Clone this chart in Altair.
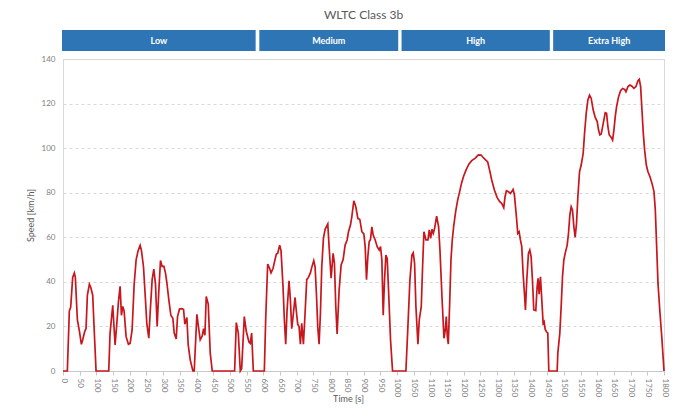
import altair as alt
import pandas as pd

# WLTC Class 3b speed trace
time_s = [0, 13, 19, 23, 29, 34, 37, 43, 49, 55, 59, 65, 69, 73, 79, 83, 89, 93, 99,
          137, 141, 149, 156, 161, 166, 171, 175, 179, 183, 189, 196, 201, 207, 213, 219,
          225, 231, 235, 241, 247, 251, 257, 261, 267, 272, 277, 282, 287, 292, 297, 302,
          307, 311, 317, 323, 329, 333, 339, 343, 349, 355, 361, 365, 371, 375, 381, 389,
          393, 401, 407, 411, 417, 421, 425, 429, 435, 441, 447, 514, 519, 525, 531, 535,
          543, 549, 557, 561, 565, 570, 603, 607, 613, 619, 623, 629, 635, 639, 643, 649,
          653, 659, 663, 667, 671, 677, 681, 685, 689, 695, 699, 703, 707, 711, 715, 720,
          725, 730, 735, 741, 745, 751, 755, 759, 763, 767, 771, 775, 780, 785, 793, 797,
          803, 809, 813, 817, 821, 827, 833, 839, 845, 851, 855, 861, 865, 871, 877, 883,
          889, 895, 901, 905, 909, 913, 917, 921, 925, 929, 935, 941, 947, 951, 955, 959,
          963, 967, 971, 975, 981, 987, 1027, 1033, 1039, 1045, 1049, 1053, 1057, 1063,
          1067, 1073, 1077, 1081, 1087, 1093, 1097, 1101, 1105, 1109, 1113, 1119, 1125,
          1129, 1135, 1141, 1145, 1148, 1151, 1154, 1158, 1162, 1166, 1170, 1176, 1182,
          1188, 1194, 1200, 1208, 1216, 1224, 1234, 1244, 1252, 1258, 1264, 1272, 1278,
          1284, 1292, 1300, 1308, 1314, 1320, 1324, 1328, 1334, 1340, 1344, 1348, 1352,
          1358, 1362, 1366, 1370, 1374, 1378, 1382, 1385, 1389, 1394, 1398, 1402, 1406,
          1410, 1416, 1420, 1423, 1426, 1430, 1434, 1438, 1441, 1444, 1448, 1452, 1455,
          1480, 1482, 1488, 1492, 1496, 1500, 1504, 1510, 1514, 1518, 1522, 1526, 1530,
          1534, 1538, 1542, 1547, 1552, 1558, 1562, 1567, 1572, 1577, 1582, 1588, 1594,
          1600, 1604, 1608, 1612, 1618, 1624, 1628, 1632, 1636, 1642, 1646, 1650, 1654,
          1658, 1664, 1670, 1676, 1682, 1686, 1692, 1698, 1704, 1710, 1716, 1722, 1726,
          1730, 1734, 1738, 1742, 1747, 1752, 1758, 1764, 1770, 1774, 1778, 1782, 1788,
          1794, 1800]
speed_kmh = [0, 0, 27, 28.6, 42, 44, 42, 23, 18, 12, 14, 17.7, 19, 34, 39, 37.6, 34, 20, 0,
             0, 17, 29.5, 11.7, 21, 31, 38, 25, 29, 27, 15.4, 12, 12.4, 18.4, 38.6, 49.9,
             54, 56.4, 54, 46.9, 31.9, 21.4, 14.7, 26, 41, 45.7, 39, 20, 36, 49.6, 46.9, 47,
             43.9, 39.7, 31.9, 25, 23.7, 17, 14.4, 24.4, 27.8, 28, 27.7, 21, 24, 11.7, 5, 0,
             0, 25.4, 18.4, 14, 15.7, 19, 16, 33.4, 30, 8, 0, 0, 21.7, 17, 0, 1,
             24.4, 17.7, 13, 12.4, 17, 0, 0, 23, 48, 46, 44, 46, 50, 52.5, 52.8, 56.5,
             54, 37.8, 22.9, 12, 27, 40.5, 31.9, 19, 24.4, 33, 26.6, 21, 19.9, 12, 21.4, 12,
             25.9, 41, 42, 44, 46.5, 49.5, 46.8, 34.8, 19.9, 12, 25.9, 46.8, 59.5, 63.6, 66, 55.8,
             41.6, 52.8, 48.3, 28.9, 16.6, 36.3, 47.6, 50, 56.5, 58.8, 62.5, 65.5, 69.2, 76.4, 73.7, 68.5,
             68, 62.5, 61.5, 55.8, 41, 51.3, 58, 59, 64.7, 61, 58.8, 55.8, 54.3, 55.8, 49.8, 25,
             40.8, 52, 50.5, 36.3, 13.9, 0, 0, 19.9, 40.8, 52, 53, 48.3, 28.9, 12,
             22.9, 28.9, 46.8, 62.5, 58.8, 58.8, 63.3, 59.5, 63.6, 61.8, 64, 69.5, 64.7,
             54.3, 33.3, 14.7, 18.4, 24.4, 15.4, 12.1, 30, 50, 59, 64.8, 71.5, 76.7,
             80.5, 84.5, 87.5, 90.5, 92.9, 94.4, 95.4, 97, 96.9, 95.9, 95, 93.8, 89.9,
             85.7, 81.2, 77.9, 76, 75.2, 73.3, 78.2, 80.9, 80.5, 79.7, 80.5, 81.5, 79,
             69.2, 61.8, 62.5, 58.8, 55.8, 43.8, 34.8, 27.4, 40.8, 52.8, 54.3, 51.3, 40.8,
             27.4, 27.1, 37.8, 41.6, 34.5, 42.3, 31.9, 21.4, 22.1, 18.7, 17.6, 17, 0,
             0, 8, 17, 28.9, 42.3, 49.8, 52.8, 56.5, 61.8, 70, 73.7, 72.2, 64.8,
             60, 66.2, 78.2, 89.4, 92.4, 97.7, 106.6, 115.6, 121.6, 123.8, 122.3, 117.1, 113.8,
             111.9, 108.1, 105.9, 106.3, 111.1, 115.9, 115.6, 109.6, 105.9, 104.8, 103.6, 108.1, 114.1,
             118.6, 123.1, 125.8, 126.8, 126.4, 125.3, 127.6, 128.3, 127.8, 126.8, 127.6, 130.3, 130.9,
             127.6, 117.1, 106.6, 99.1, 92.4, 89.4, 87.2, 84.2, 80.5, 72.2, 55.8, 39.3, 25.9,
             13.9, 0]

phase_names = ["Low", "Medium", "High", "Extra High"]
phase_box_start = [-3, 588, 1014, 1468]
phase_box_end = [577, 1004, 1458, 1803]

x_ticks = list(range(0, 1801, 50))
y_ticks = list(range(0, 141, 20))

df = pd.DataFrame({"t": time_s, "v": speed_kmh})
ph = pd.DataFrame({"name": phase_names, "start": phase_box_start, "end": phase_box_end})
ph["mid"] = (ph["start"] + ph["end"]) / 2

xscale = alt.Scale(domain=[0, 1800], nice=False, zero=False)
yscale = alt.Scale(domain=[0, 140], nice=False)

x_axis = alt.Axis(values=x_ticks, format="d", labelAngle=90, labelAlign="left",
                  labelBaseline="middle", labelFontSize=8, labelColor="#808080",
                  labelPadding=3, ticks=True, tickSize=4, tickColor="#c8c8c8",
                  domainColor="#c8c8c8", grid=False, title="Time [s]", titleFontSize=9,
                  titleColor="#595959", titleFontWeight="normal", titleX=285, titleY=23,
                  titleBaseline="top")
y_axis = alt.Axis(values=y_ticks, format="d", labelFontSize=8, labelColor="#808080",
                  labelPadding=8, ticks=False, domain=False, grid=True, gridColor="#d9d9d9",
                  gridDash=[3, 3], title="Speed [km/h]", titleFontSize=9,
                  titleColor="#595959", titleFontWeight="normal", titlePadding=6)

line = alt.Chart(df).mark_line(color="#C8161D", strokeWidth=1.7).encode(
    x=alt.X("t:Q", scale=xscale, axis=x_axis),
    y=alt.Y("v:Q", scale=yscale, axis=y_axis),
)

boxes = alt.Chart(ph).mark_rect(color="#2E75B6").encode(
    x=alt.X("start:Q", scale=xscale, axis=x_axis),
    x2="end:Q",
    y=alt.value(-29),
    y2=alt.value(-8),
)

box_labels = alt.Chart(ph).mark_text(color="white", fontWeight="bold", fontSize=9).encode(
    x=alt.X("mid:Q", scale=xscale, axis=x_axis),
    y=alt.value(-18.5),
    text="name:N",
)

chart = alt.layer(boxes, box_labels, line).properties(
    width=601,
    height=312,
    title=alt.TitleParams("WLTC Class 3b", fontSize=12, color="#595959",
                          fontWeight="normal", offset=8, anchor="middle"),
    autosize=alt.AutoSizeParams(type="none"),
    padding={"left": 55, "top": 51, "right": 27, "bottom": 37},
).configure(font="Lato").configure_view(stroke="#d9d9d9", strokeWidth=1)

chart.save("out.html", embed_options={"renderer": "svg", "actions": False})
